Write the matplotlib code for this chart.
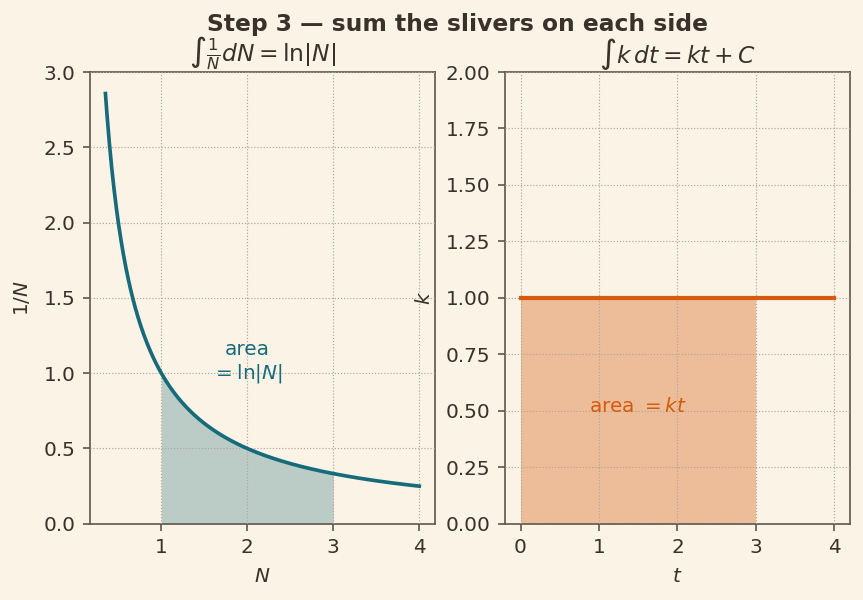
import numpy as np
import matplotlib.pyplot as plt

# --- data ---
n_start, n_end = 0.35, 4.0       # range of the 1/N curve
n_fill = (1.0, 3.0)               # shaded area under 1/N
t_start, t_end = 0.0, 4.0         # range of the k line
t_fill = (0.0, 3.0)               # shaded area under k
k_value = 1.0

left_xticks = [1, 2, 3, 4]
left_yticks = [0.0, 0.5, 1.0, 1.5, 2.0, 2.5, 3.0]
right_xticks = [0, 1, 2, 3, 4]
right_yticks = [0.0, 0.25, 0.5, 0.75, 1.0, 1.25, 1.5, 1.75, 2.0]

# --- style ---
BG = '#fbf3e5'
INK = '#3b302a'
SPINE = '#5e554c'
TEAL = '#166a7a'
ORANGE = '#d55a0c'

plt.rcParams.update({
    'font.family': 'DejaVu Sans',
    'font.size': 12,
    'text.color': INK,
    'axes.labelcolor': INK,
    'xtick.color': INK,
    'ytick.color': INK,
    'axes.edgecolor': SPINE,
    'figure.facecolor': BG,
    'axes.facecolor': BG,
})

fig = plt.figure(figsize=(863 / 120, 5), dpi=120)
ax1 = fig.add_axes([0.104, 0.127, 0.400, 0.753])
ax2 = fig.add_axes([0.585, 0.127, 0.400, 0.753])

# left panel: 1/N
N = np.linspace(n_start, n_end, 400)
ax1.plot(N, 1 / N, color=TEAL, lw=2.2, zorder=3)
Nf = np.linspace(n_fill[0], n_fill[1], 200)
ax1.fill_between(Nf, 0, 1 / Nf, color=TEAL, alpha=0.28, lw=0)
ax1.text(2.0, 1.07, 'area\n$= \\ln|N|$', color=TEAL, ha='center', va='center',
         fontsize=12, linespacing=1.2)
ax1.set_ylim(0, 3.0)
ax1.set_xticks(left_xticks)
ax1.set_yticks(left_yticks)
ax1.set_xlabel('$N$', labelpad=6)
ax1.set_ylabel('$1/N$', labelpad=7)
ax1.set_title(r'$\int \frac{1}{N} dN = \ln|N|$', fontsize=14, color=INK, pad=3)

# right panel: k
t = np.array([t_start, t_end])
ax2.plot(t, [k_value, k_value], color=ORANGE, lw=2.5, zorder=3)
ax2.fill_between(list(t_fill), 0, k_value, color=ORANGE, alpha=0.35, lw=0)
ax2.text(1.5, 0.52, 'area $= kt$', color=ORANGE, ha='center', va='center', fontsize=12)
ax2.set_ylim(0, 2.0)
ax2.set_xticks(right_xticks)
ax2.set_yticks(right_yticks)
ax2.set_yticklabels([f'{v:.2f}' for v in right_yticks])
ax2.set_xlabel('$t$', labelpad=6)
ax2.set_ylabel('$k$', labelpad=7)
ax2.set_title(r'$\int k\, dt = kt + C$', fontsize=14, color=INK, pad=3)

for ax in (ax1, ax2):
    ax.grid(True, linestyle=':', color='#aea59d', lw=0.7)
    ax.set_axisbelow(False)
    ax.tick_params(length=4, width=1.0, color=SPINE, pad=4.5)
    for s in ax.spines.values():
        s.set_linewidth(1.0)

fig.suptitle('Step 3 — sum the slivers on each side', fontsize=14,
             fontweight='bold', color=INK, x=0.53, y=0.978)

fig.savefig('out.png', dpi=120, facecolor=BG)
